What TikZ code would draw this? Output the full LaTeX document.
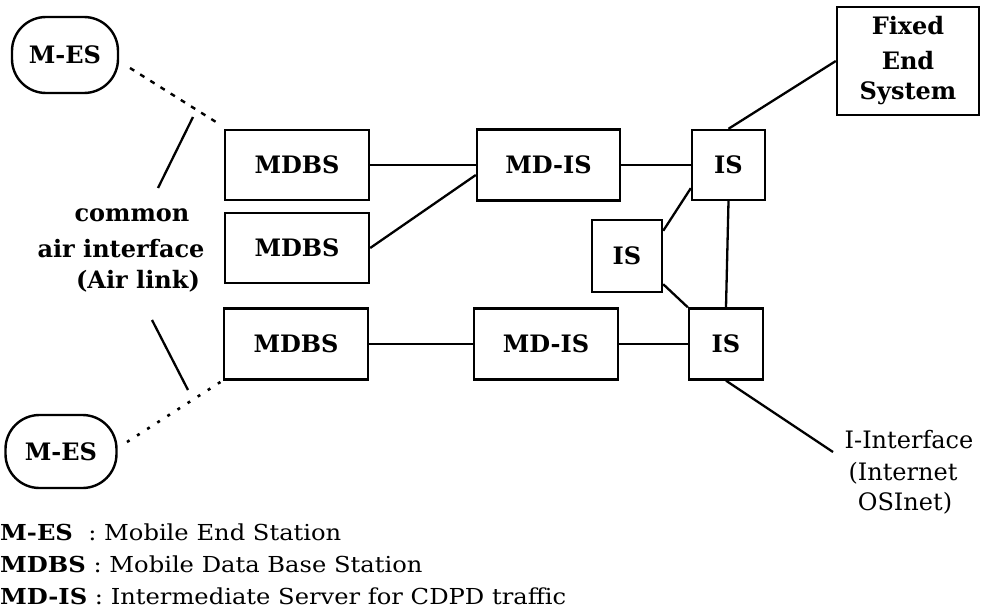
\documentclass[tikz,border=0pt]{standalone}
\usepackage{fontspec}
\setmainfont{DejaVu Serif}
\usetikzlibrary{calc}
\newcommand{\legwide}[1]{\scalebox{1.1}[1]{#1}}
\begin{document}
\begin{tikzpicture}[x=1pt,y=-1pt,
  box/.style={draw, line width=2.4pt, inner sep=0pt, font=\fontsize{24}{28}\selectfont\bfseries},
  mes/.style={box, rounded corners=34pt},
  lbl/.style={inner sep=0pt, font=\fontsize{24}{28}\selectfont\bfseries},
  rlbl/.style={inner sep=0pt, font=\fontsize{24}{28}\selectfont},
  leg/.style={inner sep=0pt, anchor=base west, font=\fontsize{22}{26}\selectfont},
  link/.style={line width=2.3pt},
  dashlink/.style={line width=2.4pt, dash pattern=on 5pt off 7pt},
  dotlink/.style={line width=2.6pt, dash pattern=on 3pt off 9pt}]
\useasboundingbox (0,0) rectangle (982,615);

% nodes
\node[mes, minimum width=106pt, minimum height=76pt] (mes1) at (65,55) {M-ES};
\node[mes, minimum width=111pt, minimum height=73pt] (mes2) at (61,451.5) {M-ES};
\node[box, minimum width=144pt, minimum height=70pt] (mdbs1) at (297,165) {MDBS};
\node[box, minimum width=144pt, minimum height=70pt] (mdbs2) at (297,248) {MDBS};
\node[box, minimum width=144pt, minimum height=71pt] (mdbs3) at (296,344) {MDBS};
\node[box, minimum width=143pt, minimum height=71pt] (mdis1) at (548.5,165) {MD-IS};
\node[box, minimum width=144pt, minimum height=71pt] (mdis2) at (546,344) {MD-IS};
\node[box, minimum width=73pt, minimum height=70pt] (is1) at (728.5,165) {IS};
\node[box, minimum width=70pt, minimum height=72pt] (is2) at (627,256) {IS};
\node[box, minimum width=74pt, minimum height=71pt] (is3) at (726,344) {IS};
\node[box, minimum width=142pt, minimum height=108pt] (fes) at (908,61) {};
\node[lbl] (fes1) at (908,26) {Fixed};
\node[lbl] (fes2) at (908,61) {End};
\node[lbl] (fes3) at (908,93) {System};

\node[lbl] (air1) at (132,215) {common};
\node[lbl] (air2) at (121,249) {air interface};
\node[lbl] (air3) at (138,281) {(Air link)};

\node[rlbl] (ii1) at (909,440) {I-Interface};
\node[rlbl] (ii2) at (903,473) {(Internet};
\node[rlbl] (ii3) at (905,503) {OSInet)};

% free ends
\coordinate (d1a) at (130,68);
\coordinate (d1b) at (216,122);
\coordinate (d2a) at (127,442);
\coordinate (d2b) at (222,381);
\coordinate (s1a) at (193,117);
\coordinate (s1b) at (158,188);
\coordinate (s2a) at (152,320);
\coordinate (s2b) at (188,390);
\coordinate (iiend) at (833,452);

% connectors
\draw[link] (mdbs1.east) -- (mdis1.west);
\draw[link] (mdbs2.east) -- ($(mdis1.west)+(0,10)$);
\draw[link] (mdis1.east) -- (is1.west);
\draw[link] ($(is1.south west)+(0,-13)$) -- ($(is2.north east)+(0,12)$);
\draw[link] ($(is2.south east)+(0,-9)$) -- (is3.north west);
\draw[link] (is1.south) -- (is3.north);
\draw[link] (is1.north) -- (fes.west);
\draw[link] (mdbs3.east) -- (mdis2.west);
\draw[link] (mdis2.east) -- (is3.west);
\draw[link] (is3.south) -- (iiend);
\draw[link] (s1a) -- (s1b);
\draw[link] (s2a) -- (s2b);
\draw[dashlink] (d1a) -- (d1b);
\draw[dotlink] (d2a) -- (d2b);

% legend
\node[leg] (leg1) at (0,540) {\legwide{\textbf{M-ES}\ \ : Mobile End Station}};
\node[leg] (leg2) at (0,572) {\legwide{\textbf{MDBS} : Mobile Data Base Station}};
\node[leg] (leg3) at (0,604) {\legwide{\textbf{MD-IS} : Intermediate Server for CDPD traffic}};
\end{tikzpicture}
\end{document}
